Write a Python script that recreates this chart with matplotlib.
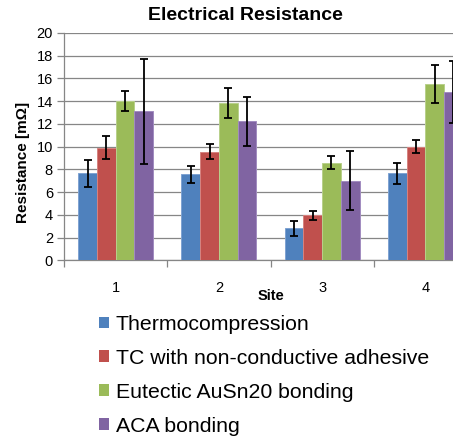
import numpy as np
import matplotlib.pyplot as plt
from matplotlib.patches import Patch
from matplotlib.ticker import MultipleLocator

plt.rcParams['font.family'] = ['Liberation Sans', 'DejaVu Sans']

sites = ['1', '2', '3', '4']
methods = ['Thermocompression', 'TC with non-conductive adhesive',
           'Eutectic AuSn20 bonding', 'ACA bonding']

# mean resistance per method (rows) and site (columns), mOhm
thermo = [7.65, 7.55, 2.8, 7.65]
tc_nca = [9.9, 9.55, 3.95, 10.0]
eutectic = [14.0, 13.85, 8.6, 15.5]
aca = [13.1, 12.25, 7.0, 14.8]

# std deviation
thermo_err = [1.2, 0.72, 0.7, 0.9]
tc_nca_err = [1.0, 0.65, 0.41, 0.55]
eutectic_err = [0.87, 1.3, 0.55, 1.65]
aca_err = [4.6, 2.15, 2.6, 2.7]

values = [thermo, tc_nca, eutectic, aca]
errors = [thermo_err, tc_nca_err, eutectic_err, aca_err]
colors = ['#4F81BD', '#C0504D', '#9BBB59', '#8064A2']
edges = ['#7FA3D2', '#D68380', '#B8D08A', '#A28CC0']

fig = plt.figure(figsize=(4.53, 4.42), dpi=100)
ax = fig.add_axes([64/453, 181.7/442, 413/453, 227.3/442])

x = np.arange(1, len(sites) + 1)
w = 0.181
for i in range(4):
    ax.bar(x + (i - 1.5) * w, values[i], w, color=colors[i], edgecolor=edges[i],
           linewidth=0.7, zorder=3)
    ax.errorbar(x + (i - 1.5) * w, values[i], yerr=errors[i], fmt='none',
                ecolor='black', elinewidth=1.3, capsize=2.6, capthick=1.3, zorder=4)

ax.set_xlim(0.5, 4.5)
ax.set_ylim(0, 20)
ax.yaxis.set_major_locator(MultipleLocator(2))
ax.grid(axis='y', color='#868686', linewidth=0.9, zorder=0)
ax.set_xticks(x)
ax.set_xticklabels(sites)
ax.set_xticks(np.arange(0.5, 4.6, 1), minor=True)
ax.tick_params(axis='x', which='major', length=0, pad=15, labelsize=10.5)
ax.tick_params(axis='x', which='minor', length=5, color='#868686', width=0.9)
ax.tick_params(axis='y', length=5, color='#868686', width=0.9, pad=3, labelsize=10.5)
for s in ['top', 'right']:
    ax.spines[s].set_visible(False)
for s in ['left', 'bottom']:
    ax.spines[s].set_color('#868686')
    ax.spines[s].set_linewidth(0.9)

fig.text(245/453, 1 - 15/442, 'Electrical Resistance', fontsize=14, fontweight='bold',
         ha='center', va='center')
ax.set_ylabel('Resistance [m\u03a9]', fontsize=11, fontweight='bold')
ax.yaxis.set_label_coords(-0.083, 0.43)
ax.set_xlabel('Site', fontsize=10.5, fontweight='bold')
ax.xaxis.set_label_coords(0.5, -0.125)

handles = [Patch(facecolor=c, edgecolor='none') for c in colors]
fig.legend(handles, methods, loc='upper left', bbox_to_anchor=(99/453, 1 - 315/442),
           frameon=False, fontsize=15.3, borderpad=0, borderaxespad=0,
           handlelength=0.48, handleheight=0.48, handletextpad=0.32, labelspacing=0.7)

fig.savefig('out.png', dpi=100)
